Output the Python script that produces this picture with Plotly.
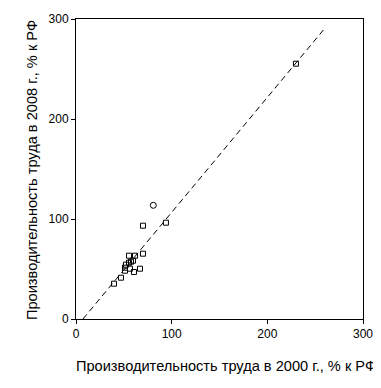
import plotly.graph_objects as go

# Labour productivity, % of RF
sq_x = [70, 94, 70, 55.4, 61.7, 59.6, 57.5, 55.4, 52.2, 51.2, 51.2, 56.4, 66.9, 60.6, 47, 39.7, 229.9]
sq_y = [93.3, 96.3, 65.3, 63.3, 63.3, 58.3, 57.3, 56.3, 54.3, 51.3, 48.3, 50.3, 50.3, 47, 41.3, 35.3, 255.3]
circ_x = [80.8]
circ_y = [113.7]
trend_x = [7.3, 261.2]
trend_y = [0, 292]
tick_vals = [0, 100, 200, 300]
tick_text = ["0", "100", "200", "300"]
x_title = "Производительность труда в 2000 г., % к РФ"
y_title = "Производительность труда в 2008 г., % к РФ"

font = "Liberation Sans, Arial, sans-serif"

fig = go.Figure()
fig.add_trace(go.Scatter(x=trend_x, y=trend_y, mode="lines",
                         line=dict(color="black", width=1, dash="6px,4px"),
                         hoverinfo="skip", showlegend=False))
fig.add_trace(go.Scatter(x=sq_x, y=sq_y, mode="markers",
                         marker=dict(symbol="square-open", size=5, color="black",
                                     line=dict(width=1, color="black")),
                         showlegend=False))
fig.add_trace(go.Scatter(x=circ_x, y=circ_y, mode="markers",
                         marker=dict(symbol="circle-open", size=6, color="black",
                                     line=dict(width=1, color="black")),
                         showlegend=False))

axis_common = dict(range=[0, 300], tickvals=tick_vals, ticktext=tick_text,
                   showgrid=False, zeroline=False, showline=True, linecolor="black",
                   linewidth=1, mirror=True, ticks="outside", ticklen=4, tickcolor="black",
                   automargin=False,
                   tickfont=dict(family=font, size=12, color="black"))

fig.update_layout(
    width=373, height=380,
    margin=dict(l=68, r=18, t=11, b=69),
    paper_bgcolor="white", plot_bgcolor="white",
    xaxis=dict(**axis_common),
    yaxis=dict(**axis_common),
    annotations=[
        dict(text=x_title, xref="paper", yref="paper", x=(226 - 76) / 287, y=-(366 - 319) / 300,
             xanchor="center", yanchor="middle", showarrow=False,
             font=dict(family=font, size=14.6, color="black")),
        dict(text=y_title, xref="paper", yref="paper", x=(32 - 76) / 287, y=(319 - 170) / 300,
             xanchor="center", yanchor="middle", showarrow=False, textangle=-90,
             font=dict(family=font, size=14.6, color="black")),
    ],
)

fig.write_html("out.html")
